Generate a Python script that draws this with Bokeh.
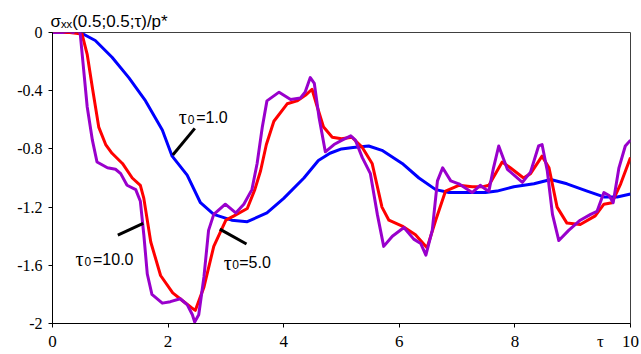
from bokeh.plotting import figure
from bokeh.models import Range1d, FixedTicker, Label, Title
from bokeh.embed import file_html
from bokeh.resources import INLINE

# ---- data ----
x_ticks = [0, 2, 4, 6, 8, 10]
x_tick_labels = ["0", "2", "4", "6", "8", "10"]
x_name_pos = 9.48          # where the axis name "τ" sits among the tick labels
x_name = "τ"
y_ticks = [-2.0, -1.6, -1.2, -0.8, -0.4, 0.0]
y_tick_labels = ["-2", "-1.6", "-1.2", "-0.8", "-0.4", "0"]
y_name = "σₓₓ(0.5;0.5;τ)/p*"

tau_1 = [0, 0.3, 0.48, 0.74, 1.03, 1.32, 1.61, 1.90, 2.07, 2.33, 2.56, 2.79, 3.10, 3.37, 3.71,
         4.0, 4.35, 4.60, 4.80, 5.0, 5.2, 5.47, 5.70, 6.05, 6.34, 6.63, 6.86, 7.1, 7.49, 7.69,
         7.98, 8.33, 8.62, 8.90, 9.25, 9.54, 9.77, 10.0]
sig_1 = [0, 0, 0, -0.055, -0.17, -0.31, -0.47, -0.67, -0.85, -0.98, -1.17, -1.25, -1.29, -1.30, -1.24,
         -1.14, -1.0, -0.88, -0.83, -0.80, -0.79, -0.78, -0.81, -0.90, -1.00, -1.08, -1.10, -1.10, -1.10, -1.09,
         -1.06, -1.04, -1.01, -1.04, -1.09, -1.13, -1.13, -1.11]

tau_5 = [0, 0.3, 0.51, 0.60, 0.69, 0.80, 0.92, 1.03, 1.21, 1.38, 1.52, 1.58, 1.70, 1.87, 2.08, 2.24,
         2.40, 2.47, 2.62, 2.79, 3.0, 3.14, 3.37, 3.50, 3.60, 3.70, 3.83, 4.06, 4.23, 4.38, 4.49,
         4.58, 4.69, 4.84, 5.0, 5.18, 5.36, 5.53, 5.70, 5.82, 6.05, 6.28, 6.48, 6.63, 6.80, 7.03,
         7.26, 7.45, 7.55, 7.78, 7.92, 8.15, 8.27, 8.47, 8.59, 8.73, 8.90, 9.13, 9.39, 9.54, 9.68,
         9.83, 10.0]
sig_5 = [0, 0, -0.01, -0.15, -0.38, -0.65, -0.77, -0.83, -0.90, -1.00, -1.05, -1.14, -1.44, -1.67, -1.79, -1.84,
         -1.89, -1.91, -1.75, -1.47, -1.29, -1.26, -1.21, -1.08, -0.95, -0.77, -0.61, -0.49, -0.47, -0.43, -0.39,
         -0.51, -0.65, -0.72, -0.73, -0.72, -0.79, -0.90, -1.20, -1.29, -1.33, -1.39, -1.48, -1.29, -1.09, -1.05,
         -1.06, -1.06, -1.05, -0.89, -0.93, -1.00, -0.97, -0.85, -0.93, -1.20, -1.31, -1.32, -1.26, -1.18, -1.17,
         -1.04, -0.86]

tau_10 = [0, 0.17, 0.28, 0.36, 0.43, 0.48, 0.54, 0.60, 0.69, 0.77, 0.95, 1.09, 1.18, 1.29, 1.44, 1.52,
          1.58, 1.64, 1.72, 1.90, 2.04, 2.21, 2.33, 2.42, 2.46, 2.53, 2.62, 2.70, 2.79, 2.99, 3.17,
          3.31, 3.45, 3.54, 3.63, 3.71, 3.92, 4.12, 4.29, 4.37, 4.46, 4.53, 4.61, 4.72, 4.87, 5.01,
          5.16, 5.24, 5.36, 5.50, 5.62, 5.73, 5.88, 6.08, 6.25, 6.37, 6.46, 6.57, 6.66, 6.75, 6.89,
          7.03, 7.26, 7.40, 7.50, 7.55, 7.63, 7.72, 7.87, 8.13, 8.27, 8.41, 8.47, 8.56, 8.65, 8.76,
          8.93, 9.13, 9.31, 9.42, 9.54, 9.63, 9.70, 9.80, 9.91, 10.0]
sig_10 = [0, 0.0, 0.01, 0.0, 0.04, -0.01, -0.26, -0.51, -0.74, -0.89, -0.93, -0.94, -0.97, -1.05, -1.08, -1.16,
          -1.39, -1.66, -1.80, -1.86, -1.85, -1.83, -1.87, -1.94, -1.99, -1.94, -1.68, -1.36, -1.25, -1.18, -1.24,
          -1.18, -1.08, -0.90, -0.65, -0.47, -0.41, -0.46, -0.45, -0.41, -0.31, -0.35, -0.58, -0.82, -0.77, -0.74,
          -0.71, -0.74, -0.86, -0.97, -1.25, -1.47, -1.40, -1.34, -1.42, -1.45, -1.53, -1.36, -1.02, -0.93, -1.02,
          -1.04, -1.10, -1.05, -1.08, -1.09, -0.93, -0.78, -0.94, -1.03, -0.96, -0.78, -0.77, -0.95, -1.25, -1.43,
          -1.36, -1.29, -1.25, -1.23, -1.10, -1.12, -1.17, -0.93, -0.78, -0.74]

series = [
    (tau_1, sig_1, "#0000FF"),
    (tau_5, sig_5, "#FF0000"),
    (tau_10, sig_10, "#9900CC"),
]

SANS = "Liberation Sans"
SERIF = "Liberation Serif"

p = figure(width=641, height=354, x_range=Range1d(0, 10), y_range=Range1d(-2, 0),
           output_backend="svg", toolbar_location=None,
           min_border_left=52, min_border_right=11, min_border_top=32, min_border_bottom=31)
p.grid.visible = False
p.outline_line_color = "#404040"
p.outline_line_width = 1
p.background_fill_color = "white"
p.border_fill_color = "white"

# y-axis title placed above the frame, left aligned
p.title = Title(text=y_name, align="left", offset=-2, standoff=4,
                text_font=SANS, text_font_size="17px", text_font_style="normal",
                text_color="black")

# x axis: real tick marks drawn as minor ticks, labels (plus the axis name) on major ticks
p.xaxis.ticker = FixedTicker(ticks=x_ticks + [x_name_pos], minor_ticks=x_ticks)
xo = {t: s for t, s in zip(x_ticks, x_tick_labels)}
xo[x_name_pos] = x_name
p.xaxis.major_label_overrides = xo
p.xaxis.major_tick_line_color = None
p.xaxis.major_tick_out = 0
p.xaxis.major_tick_in = 0
p.xaxis.minor_tick_line_color = "black"
p.xaxis.minor_tick_out = 4
p.xaxis.minor_tick_in = 0
p.xaxis.major_label_standoff = 4

p.yaxis.ticker = FixedTicker(ticks=y_ticks)
p.yaxis.major_label_overrides = {t: s for t, s in zip(y_ticks, y_tick_labels)}
p.yaxis.major_tick_line_color = "black"
p.yaxis.major_tick_out = 4
p.yaxis.major_tick_in = 0
p.yaxis.minor_tick_line_color = None
p.yaxis.major_label_standoff = 6

for ax in (p.xaxis, p.yaxis):
    ax.axis_line_color = "black"
    ax.major_label_text_font = SERIF
    ax.major_label_text_color = "black"
p.xaxis.major_label_text_font_size = "17px"
p.yaxis.major_label_text_font_size = "16px"

for xs, ys, col in series:
    p.line(xs, ys, line_color=col, line_width=3, line_join="round")

# leader lines for the curve annotations
leaders = [((2.081, 2.462), (-0.842, -0.659)),
           ((1.130, 1.569), (-1.392, -1.312)),
           ((2.894, 3.356), (-1.351, -1.454))]
for lx, ly in leaders:
    p.line(list(lx), list(ly), line_color="black", line_width=3)


def lab(x, y, text, font, size, dx=0, dy=0):
    p.add_layout(Label(x=x, y=y, text=text, text_font=font, text_font_size=size,
                       x_offset=dx, y_offset=dy, text_baseline="alphabetic",
                       text_align="left", text_color="black"))


def tau_label(x, y, val, d0, d1):
    lab(x, y, "τ", SERIF, "20px")
    lab(x, y, "0", SANS, "12px", dx=d0, dy=-2)
    lab(x, y, "=" + val, SANS, "16px", dx=d1)


tau_label(2.183, -0.583, "1.0", 9, 17.5)
tau_label(0.398, -1.557, "10.0", 9, 17.5)
tau_label(2.963, -1.581, "5.0", 8.5, 15.5)

open("out.html", "w").write(file_html(p, INLINE))
